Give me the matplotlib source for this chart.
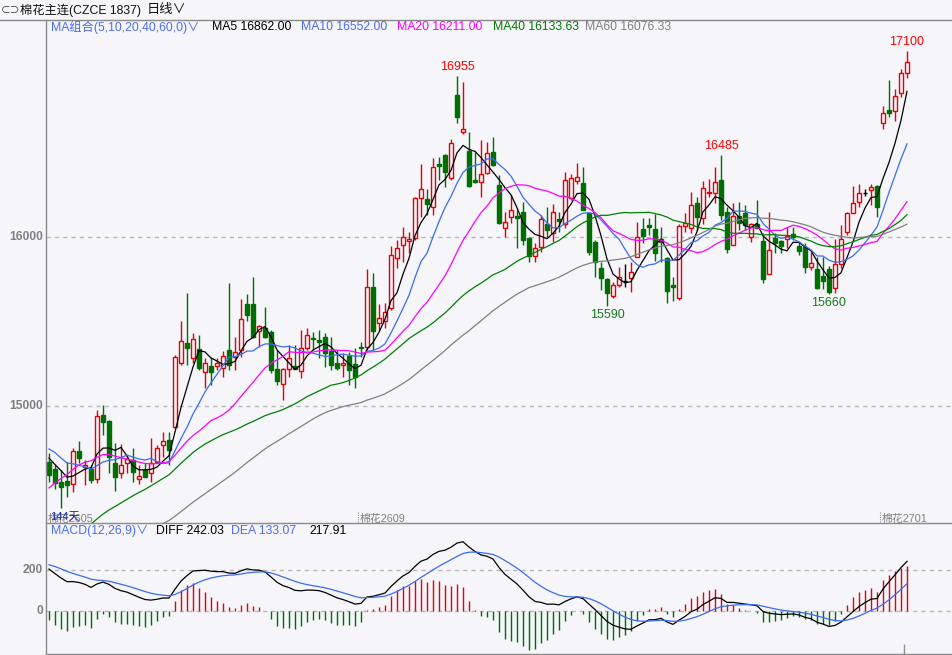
import numpy as np
import pandas as pd
import matplotlib
matplotlib.use('Agg')
import matplotlib.pyplot as plt
from matplotlib.lines import Line2D

# FONTS
plt.rcParams['font.family'] = ['Liberation Sans', 'Noto Sans CJK SC', 'DejaVu Sans']

# DATA
opens = [14669, 14627, 14551, 14557, 14539, 14732, 14637, 14625, 14566, 14947,
         14909, 14661, 14606, 14661, 14681, 14566, 14621, 14602, 14671, 14769,
         14799, 14874, 15253, 15375, 15282, 15335, 15199, 15237, 15239, 15223,
         15331, 15288, 15331, 15604, 15604, 15446, 15463, 15440, 15219, 15130,
         15219, 15237, 15207, 15341, 15404, 15391, 15406, 15327, 15257, 15243,
         15296, 15250, 15351, 15351, 15702, 15493, 15505, 15578, 15874, 15953,
         15976, 15992, 16229, 16223, 16180, 16432, 16485, 16347, 16840, 16623,
         16511, 16337, 16328, 16381, 16505, 16308, 16051, 16116, 16124, 16150,
         15992, 15890, 15939, 16075, 16022, 16107, 16077, 16229, 16333, 16322,
         16144, 15972, 15819, 15750, 15653, 15714, 15740, 15760, 15884, 16047,
         16071, 16047, 15986, 15874, 15716, 15637, 16067, 16055, 16199, 16114,
         16258, 16258, 16337, 16150, 15953, 16124, 16140, 16002, 16075, 15976,
         15779, 15996, 15976, 15986, 16016, 15947, 15939, 15825, 15809, 15770,
         15809, 15697, 15841, 16032, 16144, 16209, 16262, 16278, 16302, 16677,
         16752, 16744, 16854, 16973]
highs = [14720, 14651, 14622, 14671, 14750, 14791, 14680, 14651, 14977, 15006,
         14915, 14779, 14775, 14705, 14750, 14651, 14661, 14809, 14769, 14848,
         14848, 15300, 15503, 15667, 15430, 15420, 15282, 15292, 15282, 15327,
         15730, 15410, 15631, 15663, 15765, 15480, 15588, 15450, 15331, 15225,
         15361, 15361, 15450, 15460, 15440, 15450, 15430, 15410, 15331, 15312,
         15322, 15341, 15381, 15809, 15785, 15604, 15608, 15947, 15982, 16061,
         16032, 16235, 16432, 16282, 16466, 16475, 16490, 16578, 16955, 16919,
         16623, 16505, 16574, 16564, 16590, 16367, 16150, 16249, 16160, 16209,
         16000, 15963, 16130, 16175, 16195, 16150, 16387, 16371, 16436, 16416,
         16150, 15980, 15854, 15760, 15736, 15825, 15838, 15854, 16091, 16110,
         16110, 16136, 16061, 15880, 15765, 16075, 16140, 16268, 16239, 16333,
         16341, 16412, 16485, 16180, 16199, 16209, 16189, 16080, 16219, 16022,
         16150, 16022, 15980, 16061, 16061, 15972, 15963, 15914, 15884, 15884,
         15829, 15986, 16071, 16150, 16302, 16314, 16282, 16314, 16305, 16775,
         16929, 16874, 16992, 17100]
lows = [14552, 14507, 14395, 14464, 14493, 14665, 14533, 14543, 14543, 14829,
        14602, 14499, 14572, 14606, 14552, 14539, 14578, 14552, 14661, 14700,
        14651, 14865, 15243, 15243, 15253, 15213, 15105, 15124, 15213, 15174,
        15213, 15213, 15292, 15505, 15400, 15351, 15400, 15193, 15124, 15036,
        15174, 15217, 15164, 15331, 15331, 15282, 15233, 15213, 15213, 15170,
        15124, 15105, 15292, 15332, 15332, 15450, 15460, 15568, 15815, 15850,
        15907, 15982, 16120, 16130, 16130, 16337, 16298, 16337, 16677, 16610,
        16295, 16318, 16239, 16375, 16420, 16075, 16002, 16081, 15933, 15953,
        15854, 15854, 15913, 16002, 15972, 16032, 16051, 16219, 16314, 16160,
        15894, 15765, 15687, 15590, 15637, 15706, 15706, 15677, 15884, 15963,
        16012, 15860, 15854, 15612, 15623, 15630, 16032, 16022, 16041, 16075,
        16239, 16199, 16101, 15907, 15953, 16041, 16041, 15972, 16051, 15730,
        15779, 15903, 15907, 15933, 15982, 15894, 15785, 15805, 15690, 15690,
        15660, 15667, 15815, 16012, 16140, 16180, 16242, 16190, 16121, 16637,
        16708, 16689, 16830, 16939]
closes = [14590, 14547, 14523, 14535, 14732, 14695, 14649, 14562, 14941, 14907,
          14700, 14578, 14649, 14685, 14612, 14586, 14582, 14661, 14750, 14793,
          14740, 15288, 15385, 15345, 15395, 15223, 15253, 15203, 15257, 15296,
          15243, 15322, 15513, 15539, 15410, 15475, 15410, 15213, 15150, 15219,
          15282, 15219, 15341, 15420, 15395, 15381, 15312, 15243, 15223, 15253,
          15213, 15174, 15342, 15702, 15446, 15519, 15558, 15894, 15933, 15998,
          15986, 16229, 16282, 16196, 16416, 16420, 16387, 16554, 16712, 16637,
          16302, 16328, 16371, 16495, 16426, 16081, 16087, 16160, 16114, 15982,
          15888, 15933, 16105, 16041, 16146, 16097, 16337, 16351, 16353, 16160,
          15913, 15854, 15756, 15667, 15716, 15765, 15740, 15791, 16002, 16006,
          16057, 15905, 15972, 15683, 15702, 16067, 16081, 16189, 16120, 16288,
          16268, 16327, 16130, 15927, 16124, 16081, 16071, 16075, 16055, 15750,
          15923, 15963, 15949, 16006, 16002, 15920, 15825, 15845, 15697, 15742,
          15677, 15841, 15986, 16144, 16203, 16263, 16262, 16294, 16176, 16736,
          16735, 16835, 16969, 17034]
# closes before the visible window (estimated so that the MA / MACD lines start where they do)
prior_close = [13780, 13750, 13720, 13760, 13800, 13770, 13730, 13700, 13680, 13710,
               13750, 13730, 13700, 13670, 13690, 13720, 13750, 13720, 13690, 13700,
               13730, 13760, 13740, 13710, 13700, 13720, 13720, 13750, 13730, 13760,
               13730, 13760, 13790, 13810, 13780, 13820, 13850, 13830, 13870, 13900,
               13880, 13950, 14010, 14060, 14120, 14185, 14300, 14420, 14510, 14600,
               14690, 14760, 14850, 14820, 14790, 14780, 14740, 14700, 14730, 14700]

ma_periods = [5, 10, 20, 40, 60]
ma_colors = ['#000000', '#3a6cf0', '#ff00ff', '#008000', '#808080']
ma_labels = ['MA5 16862.00', 'MA10 16552.00', 'MA20 16211.00', 'MA40 16133.63', 'MA60 16076.33']
ma_label_x = [212, 301, 397, 493, 585]
high_marks = [68, 112, 143]
low_marks = [93, 130]
roll_idx = [0, 52, 139]
roll_names = ['棉花2605', '棉花2609', '棉花2701']
macd_labels = ['DIFF 242.03', 'DEA 133.07', '217.91']

# INDICATORS
n0 = len(prior_close)
allc = pd.Series(prior_close + closes, dtype=float)
mas = [allc.rolling(p).mean().values[n0:] for p in ma_periods]
diff = allc.ewm(span=12, adjust=False).mean() - allc.ewm(span=26, adjust=False).mean()
dea = diff.ewm(span=9, adjust=False).mean()
hist = 2 * (diff - dea)
diff, dea, hist = diff.values[n0:], dea.values[n0:], hist.values[n0:]

o = np.array(opens, float); h = np.array(highs, float)
l = np.array(lows, float); c = np.array(closes, float)
x = np.arange(len(c))

# LAYOUT (pixel based)
W, H = 952, 655
BG = '#f5f5fa'
RED = '#e60000'
GREEN = '#006f00'
GRID = '#b8b8b8'
fig = plt.figure(figsize=(W / 100, H / 100), dpi=100, facecolor=BG)

def fx(px):
    return px / W

def fy(py):
    return 1 - py / H

ax = fig.add_axes([fx(46), fy(523), fx(952 - 46), (523 - 20) / H], facecolor=BG)
axm = fig.add_axes([fx(46), fy(654), fx(952 - 46), (654 - 523) / H], facecolor=BG)
for a in (ax, axm):
    a.set_xlim(-0.5, 150.5)
    a.set_xticks([]); a.set_yticks([])
    for s in a.spines.values():
        s.set_visible(False)
ax.set_ylim(16000 - (523 - 237) / 0.169, 16000 + (237 - 20) / 0.169)
axm.set_ylim((611 - 654) / 41 * 200, (611 - 523) / 41 * 200)

# grid
for v in [15000, 16000]:
    ax.axhline(v, color=GRID, lw=1, ls=(0, (3, 3)), zorder=0)
for v in [0, 200]:
    axm.axhline(v, color=GRID, lw=1, ls=(0, (3, 3)), zorder=0)

# CANDLES
bw = 0.72
up = c > o
dn = c < o
eq = ~(up | dn)
ax.vlines(x[up], l[up], h[up], color=RED, lw=1, zorder=2)
ax.vlines(x[dn], l[dn], h[dn], color=GREEN, lw=1, zorder=2)
ax.vlines(x[eq], l[eq], h[eq], color='black', lw=1, zorder=2)
ax.bar(x[up], (c - o)[up], bottom=o[up], width=bw, facecolor=BG, edgecolor=RED, lw=1, zorder=3)
ax.bar(x[dn], (o - c)[dn], bottom=c[dn], width=bw, facecolor=GREEN, edgecolor=GREEN, lw=1, zorder=3)
ax.hlines(c[eq], x[eq] - bw / 2, x[eq] + bw / 2, color='black', lw=1, zorder=3)

# MOVING AVERAGES
for m, col in zip(mas, ma_colors):
    ax.plot(x, m, color=col, lw=0.9, zorder=4)

# high / low marks
for i in high_marks:
    ax.annotate(f'{h[i]:.0f}', (i, h[i]), xytext=(0, 2), textcoords='offset points',
                ha='center', va='bottom', color='#ff0000', fontsize=9)
for i in low_marks:
    ax.annotate(f'{l[i]:.0f}', (i, l[i]), xytext=(0, -2), textcoords='offset points',
                ha='center', va='top', color='#1a7a1a', fontsize=9)

# contract roll labels
for i, name in zip(roll_idx, roll_names):
    ax.vlines(i - 0.5, 14312, 14370, color='#909090', lw=0.8, ls=(0, (1, 1)), zorder=1)
    ax.text(i - 0.2, 14330, name, color='#808080', fontsize=7.8, va='center', ha='left')
ax.text(0.1, 14345, '144天', color='#1a2aa8', fontsize=8, va='center', ha='left')

# MACD
pos = hist >= 0
axm.vlines(x[pos], 0, hist[pos], color=RED, lw=1, zorder=2)
axm.vlines(x[~pos], 0, hist[~pos], color=GREEN, lw=1, zorder=2)
axm.plot(x, diff, color='black', lw=0.9, zorder=3)
axm.plot(x, dea, color='#3a6cf0', lw=0.9, zorder=3)
axm.vlines(len(x) - 1.5, -210, -160, color='#909090', lw=1)

# FRAME LINES
for xs, ys in [([0, W], [20, 20]), ([46, 46], [20, H]), ([46, W], [523, 523]), ([46, W], [654, 654])]:
    fig.add_artist(Line2D([fx(v) for v in xs], [fy(v) for v in ys], transform=fig.transFigure,
                          color='#8a8a8a', lw=1))

# HEADER
fig.text(fx(1), fy(10), '⊂⊃', fontsize=7, va='center', color='#333333')
fig.text(fx(20), fy(10), '棉花主连(CZCE 1837)', fontsize=8.8, va='center', color='#111111')
fig.text(fx(147), fy(10), '日线∨', fontsize=9.5, va='center', color='#111111')

# MA legend
fig.text(fx(51), fy(27), 'MA组合(5,10,20,40,60,0)∨', fontsize=8.8, va='center', color='#4a6cf0')
leg_cols = ['#000000', '#4a6cf0', '#ff00ff', '#007a00', '#808080']
for t, px, col in zip(ma_labels, ma_label_x, leg_cols):
    fig.text(fx(px), fy(27), t, fontsize=8.8, va='center', color=col)

# MACD legend
fig.text(fx(51), fy(531), 'MACD(12,26,9)∨', fontsize=8.8, va='center', color='#4a6cf0')
for t, px, col in zip(macd_labels, [156, 231, 309], ['#000000', '#4a6cf0', '#000000']):
    fig.text(fx(px), fy(531), t, fontsize=8.8, va='center', color=col)

# LEFT SCALE
for v, py in [('16000', 237), ('15000', 406), ('200', 570), ('0', 611)]:
    fig.text(fx(43), fy(py), v, fontsize=8.7, fontweight='bold', color='#808080', ha='right', va='center')

plt.savefig('out.png', dpi=100, facecolor=BG)
